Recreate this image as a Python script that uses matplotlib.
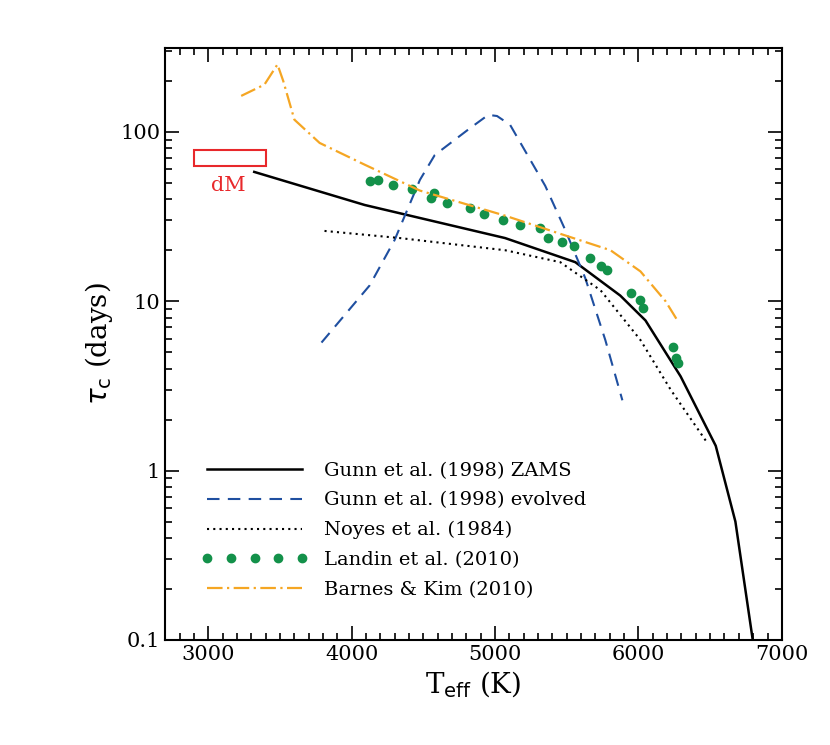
import matplotlib
matplotlib.use('Agg')
import matplotlib.pyplot as plt
from matplotlib.patches import Rectangle
from matplotlib.ticker import LogLocator, NullFormatter, FixedLocator, FixedFormatter

plt.rcParams['font.family'] = 'DejaVu Serif'

# Gunn et al. (1998) ZAMS
zams_t = [3321, 4091, 5070, 5560, 5873, 6049, 6294, 6539, 6676, 6797]
zams_tau = [58, 37, 23.6, 17, 10.8, 7.7, 3.6, 1.4, 0.5, 0.1]
# Gunn et al. (1998) evolved
evol_t = [3790, 4126, 4300, 4476, 4580, 4825, 4953, 5014, 5105, 5350, 5490, 5629, 5769, 5888]
evol_tau = [5.7, 12.4, 23, 52, 73, 105, 126, 124, 110, 48, 26.3, 13.7, 5.9, 2.6]
# Noyes et al. (1984)
noyes_t = [3811, 4336, 5070, 5455, 5736, 6014, 6225, 6470]
noyes_tau = [26, 23.6, 20, 17, 11.6, 5.9, 3.0, 1.5]
# Landin et al. (2010)
landin_t = [4126, 4182, 4287, 4420, 4552, 4574, 4665, 4825, 4923, 5056, 5175, 5315,
            5371, 5469, 5553, 5664, 5742, 5784, 5951, 6014, 6035, 6238, 6265, 6273]
landin_tau = [51.3, 52, 48.6, 46, 40.7, 43.6, 38, 35.5, 32.7, 30.2, 28.1, 27,
              23.6, 22.3, 21.2, 18, 16.2, 15.3, 11.2, 10.2, 9.1, 5.4, 4.6, 4.3]
# Barnes & Kim (2010)
bk_t = [3230, 3392, 3483, 3523, 3601, 3777, 4091, 4476, 5070, 5455, 5805, 6014, 6189, 6280]
bk_tau = [163, 190, 250, 200, 118, 86, 64, 45, 32, 25, 20, 15, 10, 7.5]

fig = plt.figure(figsize=(8.3, 7.45), dpi=100)
ax = fig.add_axes([0.199, 0.141, 0.743, 0.795])

ax.plot(zams_t, zams_tau, color='black', lw=1.8, label='Gunn et al. (1998) ZAMS')
ax.plot(evol_t, evol_tau, color='#1f4fa0', lw=1.5, ls=(0, (6, 4)), label='Gunn et al. (1998) evolved')
ax.plot(noyes_t, noyes_tau, color='black', lw=1.5, ls=(0, (1, 2)), label='Noyes et al. (1984)')
ax.plot(landin_t, landin_tau, ls='none', marker='o', ms=6, color='#13914a', label='Landin et al. (2010)')
ax.plot(bk_t, bk_tau, color='#f5a623', lw=1.6, ls=(0, (7, 2, 1, 2)), label='Barnes & Kim (2010)')

ax.add_patch(Rectangle((2900, 63), 500, 15, fill=False, ec='#e8282b', lw=1.5))
ax.text(3141, 48, 'dM', color='#e8282b', fontsize=15, ha='center', va='center')

ax.set_yscale('log')
ax.set_xlim(2700, 7000)
ax.set_ylim(0.1, 314)
ax.set_xticks([3000, 4000, 5000, 6000, 7000])
ax.xaxis.set_minor_locator(FixedLocator(range(2700, 7001, 100)))
ax.yaxis.set_major_locator(FixedLocator([0.1, 1, 10, 100]))
ax.yaxis.set_major_formatter(FixedFormatter(['0.1', '1', '10', '100']))
ax.yaxis.set_minor_locator(LogLocator(subs=range(2, 10)))
ax.yaxis.set_minor_formatter(NullFormatter())
ax.tick_params(which='both', direction='in', top=True, right=True, labelsize=15, width=1.2)
ax.tick_params(which='major', length=10)
ax.tick_params(which='minor', length=5)
for s in ax.spines.values():
    s.set_linewidth(1.5)

ax.set_xlabel(r'T$_{\rm eff}$ (K)', fontsize=20)
ax.set_ylabel(r'$\tau_{\rm c}$ (days)', fontsize=20)

leg = ax.legend(loc='lower left', bbox_to_anchor=(0.03, 0.04), frameon=False, fontsize=14,
                handlelength=5.5, labelspacing=0.6, numpoints=5)

fig.savefig('out.png', dpi=100)
